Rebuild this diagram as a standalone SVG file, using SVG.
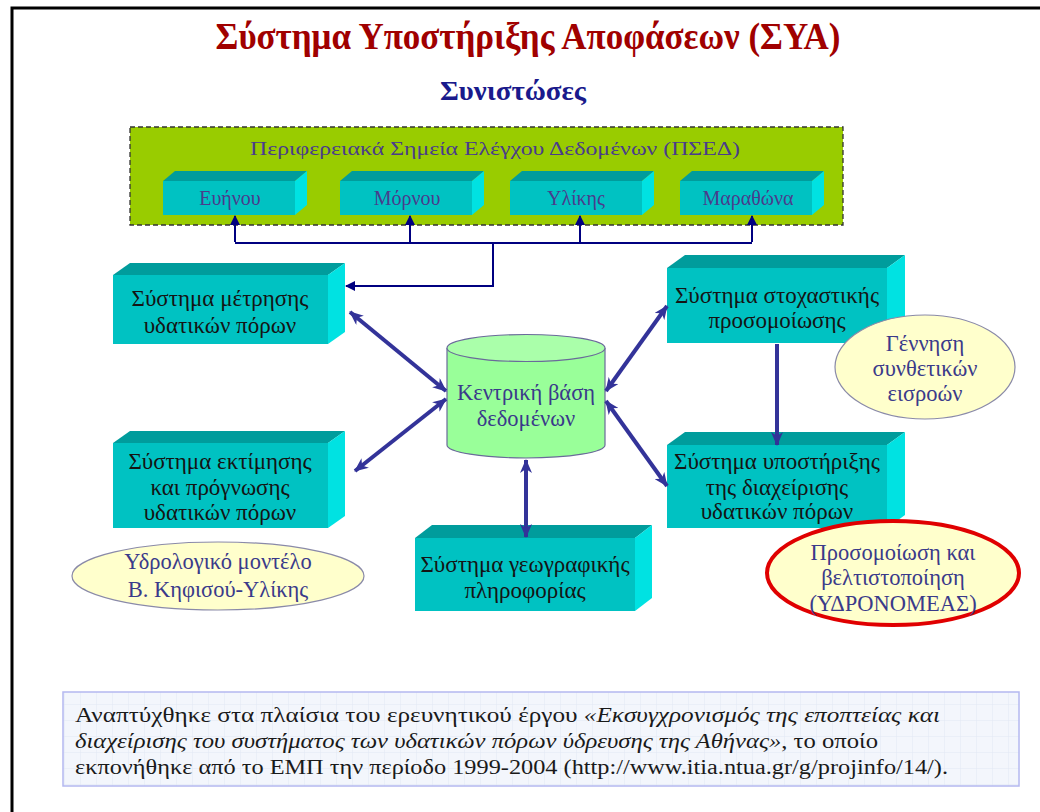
<svg xmlns="http://www.w3.org/2000/svg" width="1040" height="812" viewBox="0 0 1040 812">
<defs>
<style>
.front{fill:#00C2C2}
.top{fill:#009C9C}
.side{fill:#00E2E2}
.bt{font-family:"Liberation Serif","DejaVu Serif",serif;font-size:23px;fill:#141414;text-anchor:middle}
.st{font-family:"Liberation Serif","DejaVu Serif",serif;font-size:20px;fill:#4A3C8C;text-anchor:middle}
.et{font-family:"Liberation Serif","DejaVu Serif",serif;font-size:22.5px;fill:#3A3A8A;text-anchor:middle}
.ell{fill:#FFFFCC;stroke:#8A8AA8;stroke-width:1.2}
.thick{fill:none;stroke:#333399;stroke-width:4}
.bus{fill:none;stroke:#000080;stroke-width:2}
.ft{font-family:"Liberation Serif","DejaVu Serif",serif;font-size:20.5px;fill:#1a1a1a}
</style>
<marker id="ah" viewBox="0 0 14 12" refX="13" refY="6" markerWidth="14" markerHeight="12" markerUnits="userSpaceOnUse" orient="auto-start-reverse">
<path d="M0,0 L14,6 L0,12 L4,6 z" fill="#333399"/>
</marker>
<marker id="as" viewBox="0 0 10 10" refX="9" refY="5" markerWidth="10" markerHeight="10" markerUnits="userSpaceOnUse" orient="auto-start-reverse">
<path d="M0,0 L10,5 L0,10 z" fill="#000080"/>
</marker>
<pattern id="grid" width="16" height="16" patternUnits="userSpaceOnUse">
<rect width="16" height="16" fill="#F3F6FC"/>
<path d="M16,0 L0,0 0,16" fill="none" stroke="#E2E8F5" stroke-width="1"/>
</pattern>
</defs>

<rect x="0" y="0" width="1040" height="812" fill="#FFFFFF"/>
<path d="M12,812 L12,8 L1040,8" fill="none" stroke="#000" stroke-width="3"/>

<g id="title">
<text x="528" y="49" font-family="Liberation Serif,serif" font-weight="bold" font-size="37" fill="#A00000" text-anchor="middle" textLength="625" lengthAdjust="spacingAndGlyphs">Σύστημα Υποστήριξης Αποφάσεων (ΣΥΑ)</text>
<text x="513" y="100" font-family="Liberation Serif,serif" font-weight="bold" font-size="27" fill="#1A1A8C" text-anchor="middle" textLength="146" lengthAdjust="spacingAndGlyphs">Συνιστώσες</text>
</g>

<g id="psed">
<rect x="130" y="127" width="713" height="98" fill="#99CC00" stroke="#333" stroke-width="1.3" stroke-dasharray="5,3"/>
<text x="495" y="155" font-family="Liberation Serif,serif" font-size="19" fill="#4A3C8C" text-anchor="middle" textLength="490" lengthAdjust="spacingAndGlyphs">Περιφερειακά Σημεία Ελέγχου Δεδομένων (ΠΣΕΔ)</text>
</g>

<g id="evinou">
<polygon class="top" points="163,181 175,171 307,171 295,181"/>
<polygon class="side" points="295,181 307,171 307,205 295,215"/>
<rect class="front" x="163" y="181" width="132" height="34"/>
<text class="st" x="230" y="205">Ευήνου</text>
</g>
<g id="mornou">
<polygon class="top" points="340,181 352,171 484,171 472,181"/>
<polygon class="side" points="472,181 484,171 484,205 472,215"/>
<rect class="front" x="340" y="181" width="132" height="34"/>
<text class="st" x="407" y="205">Μόρνου</text>
</g>
<g id="ylikis">
<polygon class="top" points="510,181 522,171 654,171 642,181"/>
<polygon class="side" points="642,181 654,171 654,205 642,215"/>
<rect class="front" x="510" y="181" width="132" height="34"/>
<text class="st" x="576" y="205">Υλίκης</text>
</g>
<g id="marathona">
<polygon class="top" points="680,181 692,171 824,171 812,181"/>
<polygon class="side" points="812,181 824,171 824,205 812,215"/>
<rect class="front" x="680" y="181" width="132" height="34"/>
<text class="st" x="748" y="205">Μαραθώνα</text>
</g>

<g id="metrisi">
<polygon class="top" points="113,275 130,263 345,263 328,275"/>
<polygon class="side" points="328,275 345,263 345,332 328,344"/>
<rect class="front" x="113" y="275" width="215" height="69"/>
<text class="bt" x="220" y="306">Σύστημα μέτρησης</text>
<text class="bt" x="220" y="333">υδατικών πόρων</text>
</g>

<g id="ektimisi">
<polygon class="top" points="113,443 130,431 345,431 328,443"/>
<polygon class="side" points="328,443 345,431 345,516 328,528"/>
<rect class="front" x="113" y="443" width="215" height="85"/>
<text class="bt" x="220" y="469">Σύστημα εκτίμησης</text>
<text class="bt" x="220" y="495">και πρόγνωσης</text>
<text class="bt" x="220" y="520">υδατικών πόρων</text>
</g>

<g id="hydromodel">
<ellipse class="ell" cx="218" cy="576" rx="146" ry="34"/>
<text class="et" x="218" y="569">Υδρολογικό μοντέλο</text>
<text class="et" x="218" y="597">Β. Κηφισού-Υλίκης</text>
</g>

<g id="database">
<path d="M447,348 L447,445 A79,13 0 0 0 605,445 L605,348" fill="#99FF99" stroke="#6A6A9A" stroke-width="1.2"/>
<ellipse cx="526" cy="348" rx="79" ry="13.5" fill="#AAFFAA" stroke="#6A6A9A" stroke-width="1.2"/>
<text class="et" x="526" y="400">Κεντρική βάση</text>
<text class="et" x="526" y="426">δεδομένων</text>
</g>

<g id="geo">
<polygon class="top" points="415,538 432,525 652,525 635,538"/>
<polygon class="side" points="635,538 652,525 652,598 635,611"/>
<rect class="front" x="415" y="538" width="220" height="73"/>
<text class="bt" x="525" y="572">Σύστημα γεωγραφικής</text>
<text class="bt" x="525" y="598">πληροφορίας</text>
</g>

<g id="stochastic">
<polygon class="top" points="667,268 685,255 905,255 887,268"/>
<polygon class="side" points="887,268 905,255 905,330 887,343"/>
<rect class="front" x="667" y="268" width="220" height="75"/>
<text class="bt" x="777" y="303">Σύστημα στοχαστικής</text>
<text class="bt" x="777" y="328">προσομοίωσης</text>
</g>

<g id="synthetic">
<ellipse class="ell" cx="925" cy="367" rx="90" ry="52"/>
<text class="et" x="925" y="351">Γέννηση</text>
<text class="et" x="925" y="376">συνθετικών</text>
<text class="et" x="925" y="401">εισροών</text>
</g>

<g id="support">
<polygon class="top" points="667,445 685,432 905,432 887,445"/>
<polygon class="side" points="887,445 905,432 905,515 887,528"/>
<rect class="front" x="667" y="445" width="220" height="83"/>
<text class="bt" x="777" y="469">Σύστημα υποστήριξης</text>
<text class="bt" x="777" y="495">της διαχείρισης</text>
<text class="bt" x="777" y="519">υδατικών πόρων</text>
</g>

<g id="ydronomeas">
<ellipse cx="893" cy="573" rx="126" ry="52" fill="#FFFFCC" stroke="#E00000" stroke-width="4"/>
<text class="et" x="893" y="560">Προσομοίωση και</text>
<text class="et" x="893" y="585">βελτιστοποίηση</text>
<text class="et" x="893" y="611">(ΥΔΡΟΝΟΜΕΑΣ)</text>
</g>

<g id="connectors">
<path class="bus" d="M235,242 L235,216" marker-end="url(#as)"/>
<path class="bus" d="M410,242 L410,216" marker-end="url(#as)"/>
<path class="bus" d="M580,242 L580,216" marker-end="url(#as)"/>
<path class="bus" d="M752,242 L752,216" marker-end="url(#as)"/>
<path class="bus" d="M235,243 L752,243"/>
<path class="bus" d="M493,243 L493,286 L346,286" marker-end="url(#as)"/>
<path class="thick" d="M350,312 L446,391" marker-start="url(#ah)" marker-end="url(#ah)"/>
<path class="thick" d="M355,471 L446,399" marker-start="url(#ah)" marker-end="url(#ah)"/>
<path class="thick" d="M606,391 L667,306" marker-start="url(#ah)" marker-end="url(#ah)"/>
<path class="thick" d="M606,401 L667,486" marker-start="url(#ah)" marker-end="url(#ah)"/>
<path class="thick" d="M526,460 L526,537" marker-start="url(#ah)" marker-end="url(#ah)"/>
<path class="thick" d="M777,344 L777,445" marker-end="url(#ah)"/>
</g>

<g id="footer">
<rect x="63" y="692" width="956" height="94" fill="url(#grid)" stroke="#B4B8F0" stroke-width="1.5"/>
<text class="ft" x="75" y="722" textLength="865" lengthAdjust="spacingAndGlyphs">Αναπτύχθηκε στα πλαίσια του ερευνητικού έργου <tspan font-style="italic">«Εκσυγχρονισμός της εποπτείας και</tspan></text>
<text class="ft" x="75" y="748" textLength="803" lengthAdjust="spacingAndGlyphs"><tspan font-style="italic">διαχείρισης του συστήματος των υδατικών πόρων ύδρευσης της Αθήνας»</tspan>, το οποίο</text>
<text class="ft" x="75" y="774" textLength="873" lengthAdjust="spacingAndGlyphs">εκπονήθηκε από το ΕΜΠ την περίοδο 1999-2004 (http://www.itia.ntua.gr/g/projinfo/14/).</text>
</g>
</svg>
